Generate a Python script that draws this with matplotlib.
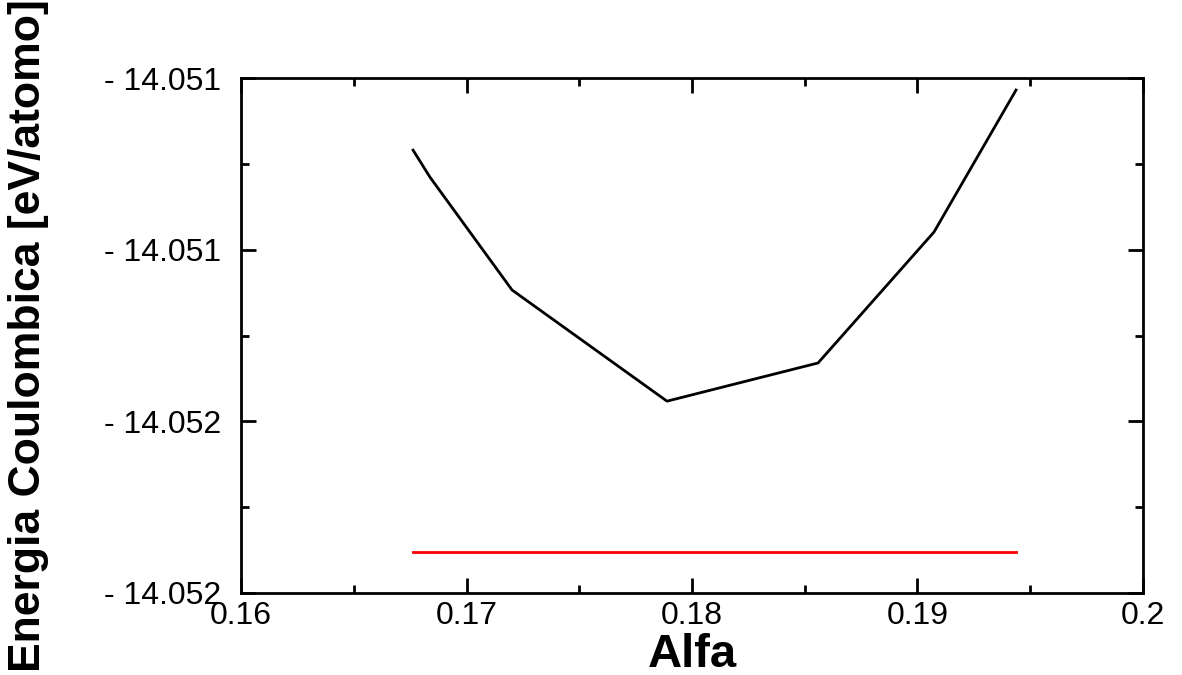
import matplotlib
matplotlib.use("Agg")
import matplotlib.pyplot as plt
from matplotlib.ticker import MultipleLocator, FuncFormatter

alfa = [0.16763, 0.16838, 0.17202, 0.17889, 0.18559, 0.19073, 0.19437]
energia = [-14.050968, -14.051031, -14.051294, -14.051553, -14.051464, -14.051159, -14.050828]
ref_x = [0.16763, 0.19437]
ref_y = [-14.051904, -14.051904]

x_ticks = [0.16, 0.17, 0.18, 0.19, 0.2]
x_labels = ["0.16", "0.17", "0.18", "0.19", "0.2"]
y_ticks = [-14.0520, -14.0516, -14.0512, -14.0508]

plt.rcParams['font.family'] = ['Liberation Sans', 'DejaVu Sans']

fig = plt.figure(figsize=(11.82, 6.75), dpi=100)
ax = fig.add_axes([0.2039, 0.1215, 0.967 - 0.2039, 0.8844 - 0.1215])

ax.plot(alfa, energia, color='black', lw=2)
ax.plot(ref_x, ref_y, color='red', lw=2)

ax.set_xlim(0.16, 0.2)
ax.set_ylim(-14.0520, -14.0508)
ax.set_xticks(x_ticks)
ax.set_xticklabels(x_labels)
ax.xaxis.set_minor_locator(MultipleLocator(0.005))
ax.set_yticks(y_ticks)
ax.yaxis.set_minor_locator(MultipleLocator(0.0002))
ax.yaxis.set_major_formatter(FuncFormatter(lambda v, p: "- %.3f" % abs(v)))

ax.tick_params(which='both', direction='in', top=True, right=True, width=2, labelsize=23, colors='black')
ax.tick_params(which='major', length=11)
ax.tick_params(which='minor', length=6)
ax.tick_params(axis='x', pad=6)
ax.tick_params(axis='y', pad=14)
for s in ax.spines.values():
    s.set_linewidth(2)

ax.set_xlabel("Alfa", fontsize=34, fontweight='bold')
ax.xaxis.set_label_coords(0.5, -0.078)
ax.set_ylabel("Energia Coulombica [eV/atomo]", fontsize=32, fontweight='bold')
ax.yaxis.set_label_coords(-0.236, 0.5)
ax.yaxis.label.set_verticalalignment('center')

fig.savefig("out.png", dpi=100)
